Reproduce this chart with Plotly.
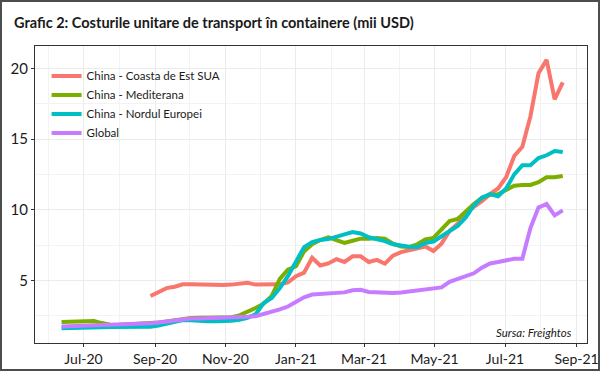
import pandas as pd
import plotly.graph_objects as go

dates = pd.date_range("2020-06-12", periods=63, freq="7D")

east_us = [None]*11 + [
    3.9, 4.2, 4.45, 4.55, 4.72, 4.72, 4.7, 4.7, 4.68, 4.68,
    4.7, 4.78, 4.83, 4.7, 4.7, 4.7, 4.72, 4.85, 5.3, 5.55,
    6.6, 6.05, 6.2, 6.5, 6.3, 6.7, 6.7, 6.3, 6.45, 6.18,
    6.75, 7.0, 7.12, 7.3, 7.4, 7.08, 7.6, 8.5, 9.0, 9.8,
    10.2, 10.6, 11.1, 11.5, 12.3, 13.8, 14.45, 16.6, 19.65, 20.6,
    17.8, 19.0]

mediterranean = [
    2.05, 2.06, 2.08, 2.1, 2.12, 1.98, 1.86, 1.85, 1.87, 1.9,
    1.93, 1.96, 2.02, 2.1, 2.2, 2.3, 2.33, 2.35, 2.37, 2.38,
    2.38, 2.4, 2.52, 2.75, 3.05, 3.35, 3.9, 5.1, 5.75, 6.0,
    7.05, 7.55, 7.85, 8.05, 7.85, 7.65, 7.8, 7.95, 7.95, 8.0,
    7.95, 7.6, 7.4, 7.36, 7.55, 7.9, 8.0, 8.6, 9.2, 9.35,
    9.9, 10.4, 10.85, 11.05, 11.1, 11.4, 11.7, 11.75, 11.75, 11.95,
    12.3, 12.3, 12.38]

north_europe = [
    1.62, 1.62, 1.63, 1.65, 1.67, 1.68, 1.7, 1.7, 1.7, 1.7,
    1.72, 1.72, 1.8, 1.95, 2.07, 2.2, 2.18, 2.12, 2.1, 2.1,
    2.1, 2.15, 2.22, 2.35, 2.6, 3.4, 3.75, 4.45, 5.3, 6.35,
    7.35, 7.7, 7.85, 7.92, 8.05, 8.25, 8.42, 8.32, 8.05, 7.92,
    7.78, 7.55, 7.45, 7.38, 7.36, 7.65, 7.75, 8.1, 8.5, 8.85,
    9.45, 10.3, 10.85, 11.1, 10.95, 11.5, 12.5, 13.14, 13.15, 13.65,
    13.85, 14.15, 14.08]

global_idx = [
    1.74, 1.76, 1.78, 1.8, 1.82, 1.83, 1.83, 1.85, 1.87, 1.9,
    1.93, 1.96, 2.02, 2.1, 2.18, 2.25, 2.3, 2.3, 2.31, 2.32,
    2.33, 2.35, 2.38, 2.42, 2.46, 2.6, 2.8, 2.95, 3.15, 3.5,
    3.8, 4.0, 4.04, 4.07, 4.1, 4.15, 4.3, 4.33, 4.18, 4.15,
    4.06, 4.1, 4.15, 4.22, 4.27, 4.35, 4.42, 4.5, 4.9, 5.1,
    5.24, 5.5, 5.9, 6.2, 6.3, 6.4, 6.53, 6.53, 8.7, 10.15,
    10.4, 9.6, 9.95]

series_names = ["China - Coasta de Est SUA", "China - Mediterana",
                "China - Nordul Europei", "Global"]
series_values = [east_us, mediterranean, north_europe, global_idx]
colors = ["#F8766D", "#7CAE00", "#00BFC4", "#C77CFF"]

title_text = "Grafic 2: Costurile unitare de transport în containere (mii USD)"
source_text = "Sursa: Freightos"

FONT = "Lato, sans-serif"

fig = go.Figure()
for name, vals, col in zip(series_names, series_values, colors):
    fig.add_trace(go.Scatter(x=dates, y=vals, name=name, mode="lines",
                             line=dict(color=col, width=4), connectgaps=False))

W, H = 600, 371
ml, mr, mt, mb = 35, 13, 46, 28
pw, ph = W - ml - mr, H - mt - mb

fig.update_layout(
    width=W, height=H,
    margin=dict(l=ml, r=mr, t=mt, b=mb, autoexpand=False),
    paper_bgcolor="white", plot_bgcolor="white",
    font=dict(family=FONT, size=14, color="#1a1a1a"),
    title=dict(text="<b>" + title_text + "</b>", xref="container", yref="container",
               x=14 / W, y=1 - 23 / H, xanchor="left", yanchor="middle",
               font=dict(family=FONT, size=14.5, color="#1a1a1a")),
    showlegend=True,
    legend=dict(x=0.021, y=0.948, xanchor="left", yanchor="top",
                bgcolor="rgba(255,255,255,0)", font=dict(size=11.5, color="#1a1a1a"),
                itemwidth=30, tracegroupgap=0),
    xaxis=dict(type="date", range=["2020-05-20", "2021-09-10"], automargin=False,
               tick0="2020-07-01", dtick="M2", tickformat="%b-%y",
               ticklabeloverflow="allow",
               showgrid=True, gridcolor="#ebebeb", gridwidth=1,
               minor=dict(dtick="M1", tick0="2020-06-01", showgrid=True,
                          gridcolor="#f3f3f3", gridwidth=1),
               showline=True, linecolor="#333333", linewidth=1.2, mirror=True,
               ticks="outside", ticklen=3, tickcolor="#333333", zeroline=False,
               tickfont=dict(size=14, color="#1a1a1a")),
    yaxis=dict(range=[0.57, 21.58], tick0=0, dtick=5, automargin=False,
               showgrid=True, gridcolor="#ebebeb", gridwidth=1,
               minor=dict(dtick=2.5, tick0=0, showgrid=True,
                          gridcolor="#f3f3f3", gridwidth=1),
               showline=True, linecolor="#333333", linewidth=1.2, mirror=True,
               ticks="outside", ticklen=3, tickcolor="#333333", zeroline=False,
               tickfont=dict(size=15, color="#1a1a1a")),
)

fig.add_annotation(text="<i>" + source_text + "</i>", xref="paper", yref="paper",
                   x=(574 - ml) / pw, y=(H - mb - 332) / ph, xanchor="right", yanchor="middle",
                   showarrow=False, font=dict(size=11.5, color="#1a1a1a"))

# outer frame around the whole image
fig.add_shape(type="rect", xref="paper", yref="paper",
              x0=(1 - ml) / pw, x1=(W - 1 - ml) / pw,
              y0=(1 - mb) / ph, y1=(H - 1 - mb) / ph,
              line=dict(color="#4d4d4d", width=2), layer="above")

fig.write_html("out.html", config={"displayModeBar": False},
               post_script="document.body.style.margin='0';document.body.style.overflow='hidden';")
